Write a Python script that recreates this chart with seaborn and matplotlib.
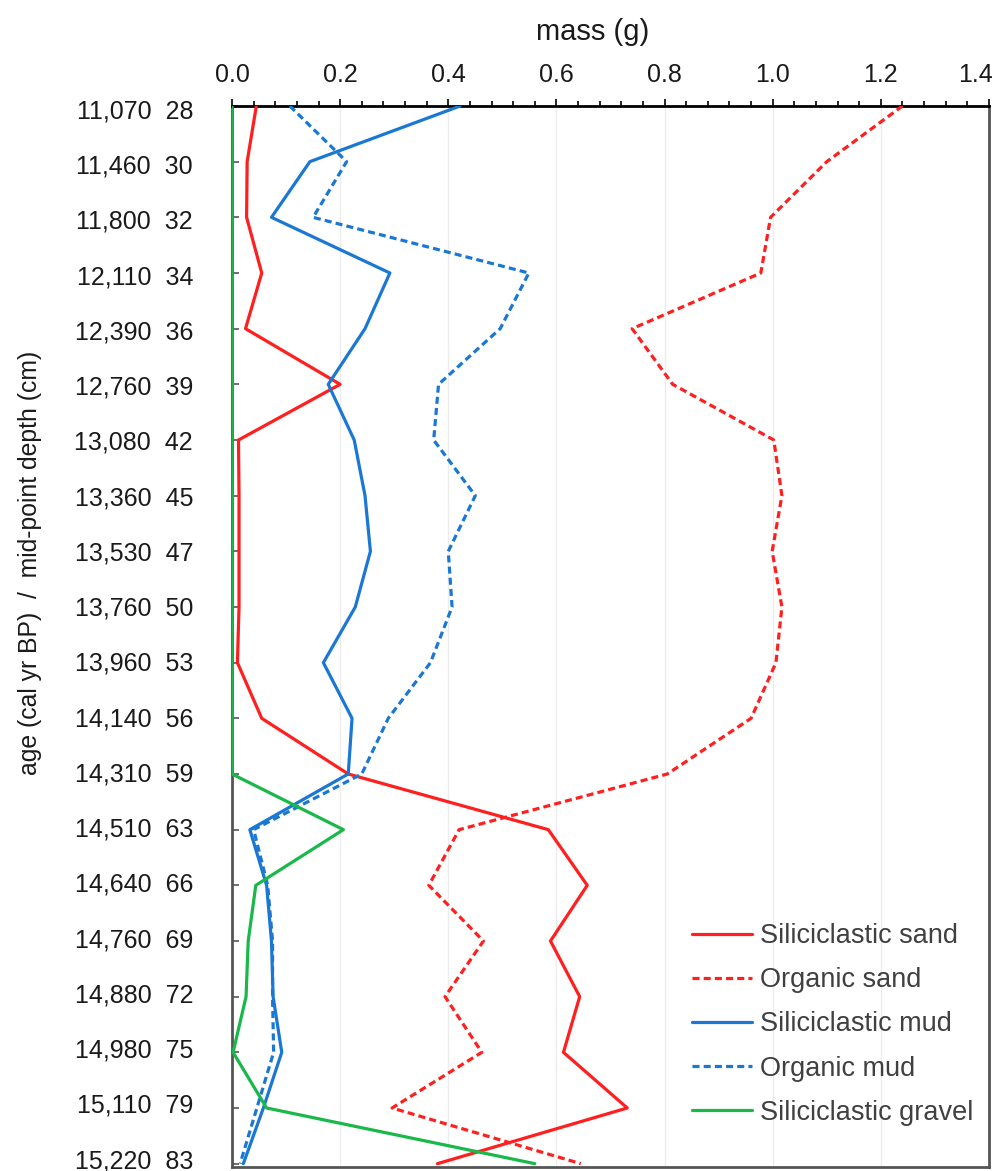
import matplotlib
matplotlib.use("Agg")
import matplotlib.pyplot as plt
from matplotlib.ticker import MultipleLocator, FormatStrFormatter
from matplotlib.transforms import ScaledTranslation
import seaborn as sns
import numpy as np

# sample ages (cal yr BP) and mid-point depths (cm), top to bottom
ages = [11070, 11460, 11800, 12110, 12390, 12760, 13080, 13360, 13530, 13760,
        13960, 14140, 14310, 14510, 14640, 14760, 14880, 14980, 15110, 15220]
depths = [28, 30, 32, 34, 36, 39, 42, 45, 47, 50,
          53, 56, 59, 63, 66, 69, 72, 75, 79, 83]

# mass (g) per fraction
sil_sand = [0.045, 0.028, 0.027, 0.055, 0.025, 0.200, 0.012, 0.013, 0.013, 0.013,
            0.010, 0.055, 0.215, 0.585, 0.657, 0.589, 0.643, 0.613, 0.731, 0.380]
org_sand = [1.240, 1.100, 0.996, 0.978, 0.740, 0.815, 1.002, 1.017, 0.999, 1.017,
            1.006, 0.960, 0.805, 0.420, 0.364, 0.465, 0.394, 0.462, 0.296, 0.645]
sil_mud = [0.422, 0.144, 0.073, 0.292, 0.246, 0.178, 0.226, 0.246, 0.256, 0.228,
           0.169, 0.222, 0.215, 0.033, 0.064, 0.073, 0.076, 0.092, 0.058, 0.021]
org_mud = [0.107, 0.212, 0.150, 0.549, 0.496, 0.382, 0.373, 0.450, 0.400, 0.407,
           0.367, 0.289, 0.240, 0.040, 0.066, 0.075, 0.075, 0.077, 0.046, 0.015]
sil_gravel = [0.0, 0.0, 0.0, 0.0, 0.0, 0.0, 0.0, 0.0, 0.0, 0.0,
              0.0, 0.0, 0.0, 0.206, 0.044, 0.030, 0.026, 0.002, 0.064, 0.560]

series_names = ["Siliciclastic sand", "Organic sand", "Siliciclastic mud",
                "Organic mud", "Siliciclastic gravel"]

RED = "#ff1f1f"
BLUE = "#1a78d4"
GREEN = "#19b84a"
DASH = (0, (2.2, 1.3))

sns.set_style("white")
plt.rcParams["font.family"] = ["Liberation Sans", "DejaVu Sans"]

fig = plt.figure(figsize=(9.94, 11.71), dpi=100)
ax = fig.add_axes([232 / 994, 4 / 1171, 757 / 994, 1061 / 1171])

rows = np.arange(len(depths))
styles = [
    (sil_sand, RED, "-"),
    (org_sand, RED, DASH),
    (sil_mud, BLUE, "-"),
    (org_mud, BLUE, DASH),
    (sil_gravel, GREEN, "-"),
]
for name, (vals, col, ls) in zip(series_names, styles):
    sns.lineplot(x=vals, y=rows, orient="y", sort=False, estimator=None,
                 ax=ax, color=col, linestyle=ls, linewidth=2.3,
                 label=name, zorder=3)

# axes: mass on top, depth increasing downward
ax.set_xlim(0, 1.4)
ax.set_ylim(19.06, 0)
ax.xaxis.tick_top()
ax.xaxis.set_label_position("top")
ax.set_xticks(np.arange(0, 1.41, 0.2))
ax.xaxis.set_minor_locator(MultipleLocator(0.04))
ax.xaxis.set_major_formatter(FormatStrFormatter("%.1f"))
ax.tick_params(axis="x", which="major", direction="out", length=5, width=1.2,
               color="black", pad=9, labelsize=18, labelcolor="#1a1a1a")
ax.tick_params(axis="x", which="minor", direction="out", length=3.5, width=1.2,
               color="black", top=True, bottom=False)
ax.xaxis.grid(True, which="major", color="#ececec", linewidth=1)

ax.set_yticks(rows)
ax.set_yticklabels([f"{a:,}  {d}" for a, d in zip(ages, depths)])
ax.tick_params(axis="y", direction="in", length=5, width=1.2, color="#555555",
               pad=28, labelsize=18, labelcolor="#1a1a1a", left=True)

# keep the last mass label inside the figure
last = ax.xaxis.get_major_ticks()[-1].label2
last.set_horizontalalignment("right")
last.set_transform(last.get_transform() + ScaledTranslation(3 / 72, 0, fig.dpi_scale_trans))

# depth labels sit a touch low at the top and a touch high at the bottom
n = len(rows)
for i, tick in enumerate(ax.yaxis.get_major_ticks()):
    shift_px = 3 - 8 * i / (n - 1)
    lab = tick.label1
    lab.set_transform(lab.get_transform()
                      + ScaledTranslation(0, -shift_px / 100, fig.dpi_scale_trans))

ax.set_xlabel("mass (g)", fontsize=21, color="#1a1a1a")
ax.xaxis.set_label_coords(0.476, 1.062)
ax.set_ylabel("age (cal yr BP)  /  mid-point depth (cm)", fontsize=17.8,
              color="#1a1a1a")
ax.yaxis.set_label_coords(-0.251, 0.569)

for side in ["left", "right", "bottom"]:
    ax.spines[side].set_color("#555555")
    ax.spines[side].set_linewidth(2)
ax.spines["top"].set_color("black")
ax.spines["top"].set_linewidth(2)

leg = ax.legend(loc="upper left", bbox_to_anchor=(0.6077, 0.2299),
                frameon=False, fontsize=19.5, handlelength=2.2,
                handletextpad=0.3, labelspacing=0.67, borderpad=0,
                borderaxespad=0)
for t in leg.get_texts():
    t.set_color("#404040")

fig.savefig("out.png", dpi=100)
